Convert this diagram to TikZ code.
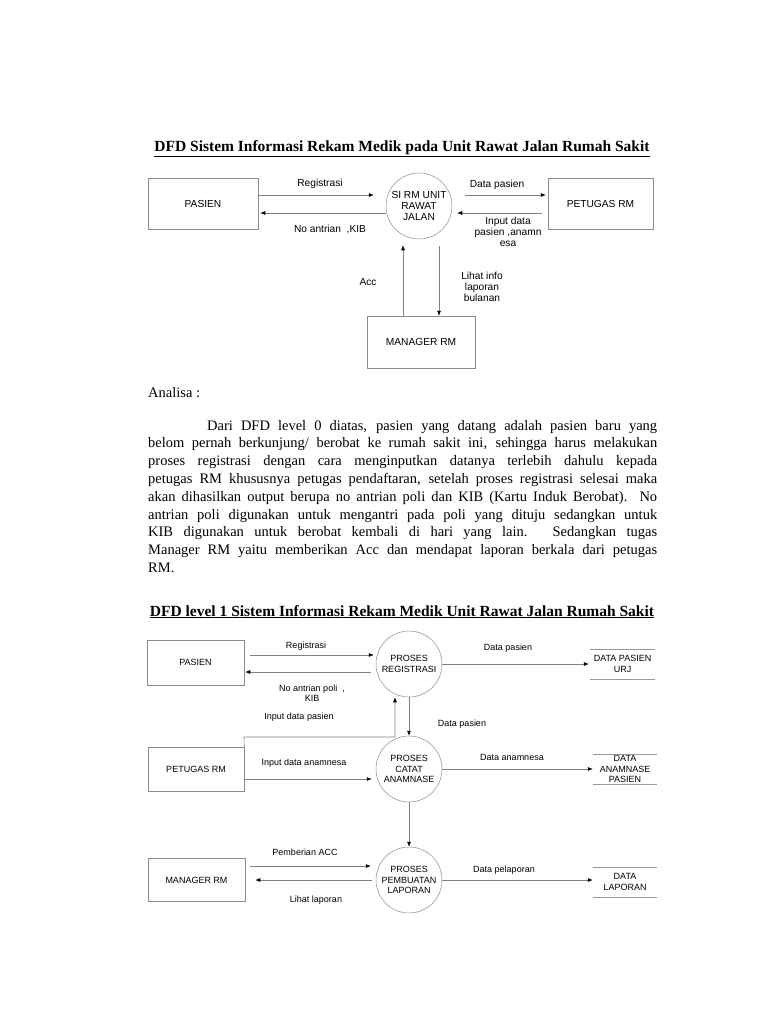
\documentclass[tikz,border=0pt]{standalone}
\usepackage{fontspec}
\setmainfont{Liberation Serif}
\setsansfont{Liberation Sans}
\usepackage{tikz}
\usetikzlibrary{arrows.meta}
\tikzset{
  dfd_text/.style = {align=center, inner sep=0pt, text centered},
  entity_box/.style = {dfd_text, rectangle, draw=black!45, line width=0.5pt},
  process_node/.style = {dfd_text, circle, draw=black!45, line width=0.5pt,
    minimum size=66pt},
  store_node/.style = {dfd_text, minimum width=64pt, minimum height=30pt},
  store_line/.style = {draw=black!40, line width=0.5pt},
  flow/.style = {draw=black!50, line width=0.6pt,
    -{Latex[color=black, length=5pt, width=4pt]}},
  flow_label/.style = {align=center, inner sep=0pt},
  lvl_zero/.style = {font=\sffamily\fontsize{10.2}{11}\selectfont},
  lvl_one/.style = {font=\sffamily\fontsize{9}{10.5}\selectfont},
  title_text/.style = {font=\bfseries\fontsize{15.5}{18}\selectfont,
    inner sep=0pt, anchor=base}
}

\begin{document}
\begin{tikzpicture}[x=1pt, y=-1pt]
  \fill[white] (0,0) rectangle (768,1024);
  \useasboundingbox (0,0) rectangle (768,1024);

  % level 0
  \node[title_text] (title_a) at (402,152)
    {\underline{DFD Sistem Informasi Rekam Medik pada Unit Rawat Jalan Rumah Sakit}};
  \begin{scope}[lvl_zero]
    \node[entity_box, minimum width=110pt, minimum height=51pt] (pasien) at (203,203.5) {PASIEN};
    \node[process_node] (si_rm) at (419,206) {SI RM UNIT\\RAWAT\\JALAN};
    \node[entity_box, minimum width=105pt, minimum height=51pt] (petugas) at (600.5,203.5) {PETUGAS RM};
    \node[entity_box, minimum width=108pt, minimum height=52pt] (manager) at (421,342) {MANAGER RM};

    \node[flow_label] (l_reg) at (320,184) {Registrasi};
    \node[flow_label] (l_antri) at (330,229) {No antrian\ \ ,KIB};
    \node[flow_label] (l_data) at (497,185) {Data pasien};
    \node[flow_label] (l_input) at (508,232) {Input data\\pasien ,anamn\\esa};
    \node[flow_label] (l_acc) at (368,282) {Acc};
    \node[flow_label] (l_lihat) at (482,287) {Lihat info\\laporan\\bulanan};
  \end{scope}

  \draw[flow, shorten >=12pt] ([yshift=8.5pt]pasien.east) -- ([yshift=11pt]si_rm.west);
  \draw[flow, shorten >=2pt] ([yshift=-7pt]si_rm.west) -- ([yshift=-9.5pt]pasien.east);
  \draw[flow, shorten <=13pt, shorten >=2pt] ([yshift=11pt]si_rm.east) -- ([yshift=8.5pt]petugas.west);
  \draw[flow, shorten <=6pt, shorten >=5pt] ([yshift=-9.5pt]petugas.west) -- ([yshift=-7pt]si_rm.east);
  \draw[flow, shorten >=6pt] ([xshift=-18pt]manager.north) -- ([xshift=-16pt]si_rm.south);
  \draw[flow, shorten <=7pt] ([xshift=20pt]si_rm.south) -- ([xshift=18pt]manager.north);

  % analisa
  \node[anchor=base west, inner sep=0pt, font=\fontsize{14.5}{17.8}\selectfont]
    (analisa) at (148,397) {Analisa :};
  \node[anchor=base west, inner sep=0pt, text width=509pt, align=justify,
    font=\fontsize{14.5}{17.8}\selectfont] (uraian) at (148,430)
    {\hspace*{59pt}Dari DFD level 0 diatas, pasien yang datang adalah pasien baru yang\linebreak
     belom pernah berkunjung/ berobat ke rumah sakit ini, sehingga harus melakukan\linebreak
     proses registrasi dengan cara menginputkan datanya terlebih dahulu kepada\linebreak
     petugas RM khususnya petugas pendaftaran, setelah proses registrasi selesai maka\linebreak
     akan dihasilkan output berupa no antrian poli dan KIB (Kartu Induk Berobat). No\linebreak
     antrian poli digunakan untuk mengantri pada poli yang dituju sedangkan untuk\linebreak
     KIB digunakan untuk berobat kembali di hari yang lain. Sedangkan tugas\linebreak
     Manager RM yaitu memberikan Acc dan mendapat laporan berkala dari petugas\linebreak
     RM.};

  % level 1
  \node[title_text] (title_b) at (402,616)
    {\underline{DFD level 1 Sistem Informasi Rekam Medik Unit Rawat Jalan Rumah Sakit}};
  \begin{scope}[lvl_one]
    \node[entity_box, minimum width=97pt, minimum height=45pt] (pasien_b) at (195.5,662.5) {PASIEN};
    \node[entity_box, minimum width=96pt, minimum height=44pt] (petugas_b) at (196,769) {PETUGAS RM};
    \node[entity_box, minimum width=97pt, minimum height=43pt] (manager_b) at (196.5,880) {MANAGER RM};

    \node[process_node] (registrasi) at (409,664) {PROSES\\REGISTRASI};
    \node[process_node] (anamnase) at (409,769) {PROSES\\CATAT\\ANAMNASE};
    \node[process_node] (laporan) at (409,880) {PROSES\\PEMBUATAN\\LAPORAN};

    \node[store_node, minimum width=65pt] (st_urj) at (622.5,664) {DATA PASIEN\\URJ};
    \node[store_node] (st_anam) at (625,769) {DATA\\ANAMNASE\\PASIEN};
    \node[store_node] (st_lap) at (625,882) {DATA\\LAPORAN};

    \node[flow_label] (m_reg) at (306,646) {Registrasi};
    \node[flow_label] (m_antri) at (312,693) {No antrian poli\ \ ,\\KIB};
    \node[flow_label] (m_data) at (508,648) {Data pasien};
    \node[flow_label] (m_input) at (299,717) {Input data pasien};
    \node[flow_label] (m_data_b) at (462,724) {Data pasien};
    \node[flow_label] (m_anam) at (304,763) {Input data anamnesa};
    \node[flow_label] (m_data_anam) at (512,757) {Data anamnesa};
    \node[flow_label] (m_acc) at (305,852) {Pemberian ACC};
    \node[flow_label] (m_lihat) at (316,900) {Lihat laporan};
    \node[flow_label] (m_lapor) at (504,870) {Data pelaporan};
  \end{scope}
  \coordinate (bend) at (244,737);

  \foreach \s in {st_urj, st_anam, st_lap}
    \draw[store_line] (\s.north west) -- (\s.north east)
                      (\s.south west) -- (\s.south east);

  \draw[flow, shorten <=6pt, shorten >=2pt] ([yshift=7.5pt]pasien_b.east) -- ([yshift=9pt]registrasi.west);
  \draw[flow, shorten <=5pt, shorten >=1pt] ([yshift=-8pt]registrasi.west) -- ([yshift=-9.5pt]pasien_b.east);
  \draw[flow, shorten >=1pt] (registrasi.east) -- (st_urj.west);
  \draw[flow] (petugas_b.north east) -- (bend) -| ([xshift=-14pt]registrasi.south);
  \draw[flow] (registrasi.south) -- (anamnase.north);
  \draw[flow, shorten >=4pt] ([yshift=-10pt]petugas_b.east) -- ([yshift=-10pt]anamnase.west);
  \draw[flow] (anamnase.east) -- (st_anam.west);
  \draw[flow] (anamnase.south) -- (laporan.north);
  \draw[flow, shorten <=5pt, shorten >=5pt] ([yshift=14pt]manager_b.east) -- ([yshift=14pt]laporan.west);
  \draw[flow, shorten <=4pt, shorten >=10pt] (laporan.west) -- (manager_b.east);
  \draw[flow] (laporan.east) -- ([yshift=2pt]st_lap.west);
\end{tikzpicture}
\end{document}
